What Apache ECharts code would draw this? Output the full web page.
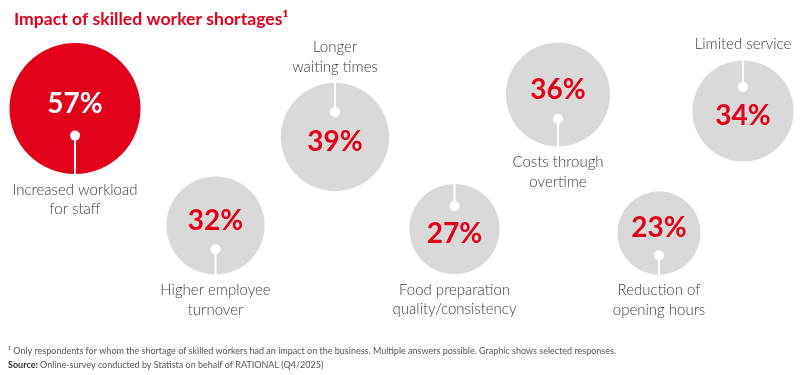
<!DOCTYPE html>
<html>
<head>
<meta charset="utf-8">
<script src="https://cdn.jsdelivr.net/npm/echarts@6/dist/echarts.min.js"></script>
<style>
html,body{margin:0;padding:0;background:#fff;}
#chart{width:800px;height:375px;}
</style>
</head>
<body>
<div id="chart"></div>
<script>
// ---- data ----
const categories = [
  'Increased workload\nfor staff',
  'Higher employee\nturnover',
  'Longer\nwaiting times',
  'Food preparation\nquality/consistency',
  'Costs through\novertime',
  'Reduction of\nopening hours',
  'Limited service'
];
const values = [57, 32, 39, 27, 36, 23, 34];
const titleText = 'Impact of skilled worker shortages\u00B9';
const footnoteText = '\u00B9 Only respondents for whom the shortage of skilled workers had an impact on the business. Multiple answers possible. Graphic shows selected responses.';
const sourceLabel = 'Source:';
const sourceText = ' Online-survey conducted by Statista on behalf of RATIONAL (Q4/2025)';

// ---- layout (bubble placement, not data) ----
const layoutX = [75, 215.5, 335, 454.5, 558, 659, 743];
const layoutY = [108.5, 225.5, 137, 229, 94.5, 233, 111];
const pinDir = [1, 1, -1, -1, 1, 1, -1];      // 1 = pin points down, -1 = up
const labelSide = [1, 1, -1, 1, 1, 1, -1];    // 1 = label below, -1 = above

const RED = '#e2001a';
const GREY = '#d9d9d9';
const TXT = '#3c3c3c';
const FONT = 'Lato';
const R_SCALE = 8.68;

const seriesData = values.map((v, i) => [layoutX[i], layoutY[i], v, i]);

const chart = echarts.init(document.getElementById('chart'));
chart.setOption({
  animation: false,
  backgroundColor: '#fff',
  title: {
    text: titleText,
    left: 9, top: 5,
    textStyle: { fontFamily: FONT, fontSize: 17.6, fontWeight: 'bold', color: RED }
  },
  grid: { left: 0, right: 0, top: 0, bottom: 0 },
  xAxis: { type: 'value', min: 0, max: 800, show: false },
  yAxis: { type: 'value', min: 0, max: 375, inverse: true, show: false },
  series: [{
    type: 'custom',
    coordinateSystem: 'cartesian2d',
    data: seriesData,
    renderItem: function (params, api) {
      const i = params.dataIndex;
      const c = api.coord([api.value(0), api.value(1)]);
      const v = api.value(2);
      const r = R_SCALE * Math.sqrt(v);
      const first = i === 0;
      const d = pinDir[i];
      const dotOff = 0.2 * r + 14;
      const dotY = c[1] + d * dotOff;
      const edgeY = c[1] + d * (r + 1);
      const side = labelSide[i];
      const labelEdge = c[1] + side * r;
      const children = [
        { type: 'circle', shape: { cx: c[0], cy: c[1], r: r }, style: { fill: first ? RED : GREY } },
        { type: 'line', shape: { x1: c[0], y1: dotY, x2: c[0], y2: edgeY }, style: { stroke: '#fff', lineWidth: 2 } },
        { type: 'circle', shape: { cx: c[0], cy: dotY, r: 5 }, style: { fill: '#fff' } },
        { type: 'text', style: {
            x: c[0], y: c[1] - d * 5,
            text: v + '%', fill: first ? '#fff' : RED,
            font: 'bold 28px ' + FONT, align: 'center', verticalAlign: 'middle'
        } },
        { type: 'text', style: {
            x: c[0], y: side > 0 ? labelEdge + 6 : labelEdge - 6,
            text: categories[i], fill: TXT,
            fontFamily: FONT, fontSize: 15, fontWeight: 300, lineHeight: 19.5,
            align: 'center', verticalAlign: side > 0 ? 'top' : 'bottom'
        } }
      ];
      return { type: 'group', children: children };
    }
  }],
  graphic: [
    { type: 'text', left: 8, top: 347, style: { text: footnoteText, fill: '#555', font: '9px ' + FONT } },
    { type: 'text', left: 8, top: 361, style: {
        text: '{b|' + sourceLabel + '}{n|' + sourceText + '}',
        rich: {
          b: { fontFamily: FONT, fontSize: 9, fontWeight: 'bold', fill: '#333', color: '#333' },
          n: { fontFamily: FONT, fontSize: 9, fill: '#555', color: '#555' }
        }
    } }
  ]
});
</script>
</body>
</html>
